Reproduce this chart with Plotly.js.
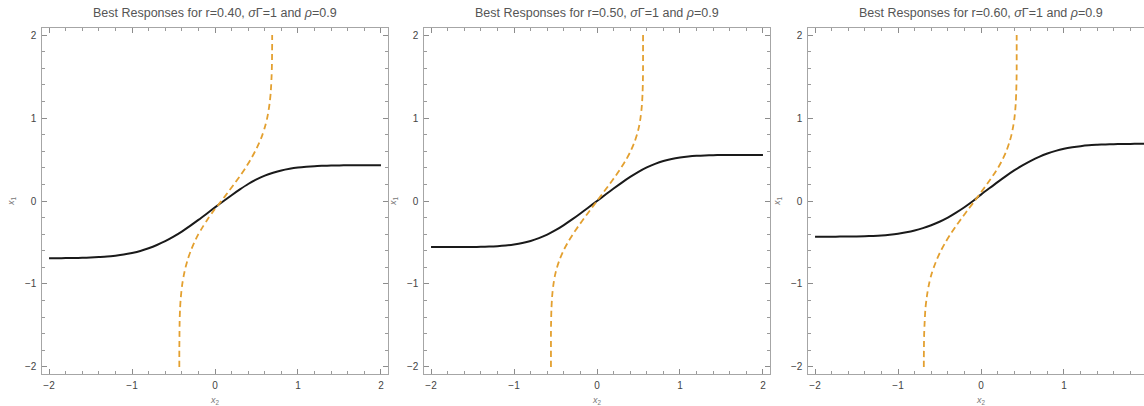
<!DOCTYPE html>
<html>
<head>
<meta charset="utf-8">
<script src="https://cdn.plot.ly/plotly-3.0.1.min.js"></script>
<style>
html,body{margin:0;padding:0;overflow:hidden;background:#fff;}
#chart{width:1162px;height:406px;}
</style>
</head>
<body>
<div id="chart"></div>
<script>
// Grid of the independent variable (x2 for solid curves, x1 for dashed curves)
const grid = [-2.0, -1.9, -1.8, -1.7, -1.6, -1.5, -1.4, -1.3, -1.2, -1.1,
              -1.0, -0.9, -0.8, -0.7, -0.6, -0.5, -0.4, -0.3, -0.2, -0.1,
               0.0,  0.1,  0.2,  0.3,  0.4,  0.5,  0.6,  0.7,  0.8,  0.9,
               1.0,  1.1,  1.2,  1.3,  1.4,  1.5,  1.6,  1.7,  1.8,  1.9, 2.0];

// Panel titles
const panelTitles = [
  'Best Responses for r=0.40, <i>σ</i>Γ=1 and <i>ρ</i>=0.9',
  'Best Responses for r=0.50, <i>σ</i>Γ=1 and <i>ρ</i>=0.9',
  'Best Responses for r=0.60, <i>σ</i>Γ=1 and <i>ρ</i>=0.9'
];

// Best response of player 1: x1 as a function of x2 (solid black)
const br1_r040 = [-0.689, -0.689, -0.688, -0.687, -0.685, -0.681, -0.676, -0.670, -0.659, -0.645,
                  -0.626, -0.602, -0.569, -0.530, -0.484, -0.429, -0.368, -0.300, -0.228, -0.153,
                  -0.077, -0.003,  0.070,  0.140,  0.205,  0.260,  0.305,  0.340,  0.368,  0.388,
                   0.403,  0.413,  0.420,  0.424,  0.427,  0.429,  0.430,  0.430,  0.430,  0.430, 0.430];
const br1_r050 = [-0.555, -0.555, -0.555, -0.555, -0.555, -0.554, -0.552, -0.549, -0.544, -0.536,
                  -0.524, -0.507, -0.482, -0.448, -0.405, -0.352, -0.290, -0.222, -0.150, -0.075,
                   0.000,  0.075,  0.150,  0.222,  0.290,  0.352,  0.405,  0.448,  0.482,  0.507,
                   0.524,  0.536,  0.544,  0.549,  0.552,  0.554,  0.555,  0.555,  0.555,  0.555, 0.555];
const br1_r060 = [-0.430, -0.430, -0.430, -0.429, -0.428, -0.427, -0.425, -0.421, -0.415, -0.406,
                  -0.394, -0.377, -0.355, -0.327, -0.292, -0.250, -0.200, -0.140, -0.075, -0.003,
                   0.077,  0.153,  0.228,  0.300,  0.368,  0.429,  0.484,  0.532,  0.572,  0.604,
                   0.629,  0.647,  0.661,  0.671,  0.677,  0.682,  0.685,  0.687,  0.688,  0.689, 0.689];

// Best response of player 2: x2 as a function of x1 (dashed orange)
const br2_r040 = [-0.430, -0.430, -0.430, -0.429, -0.428, -0.427, -0.425, -0.421, -0.415, -0.406,
                  -0.394, -0.377, -0.355, -0.327, -0.292, -0.250, -0.200, -0.140, -0.075, -0.003,
                   0.077,  0.153,  0.228,  0.300,  0.368,  0.429,  0.484,  0.532,  0.572,  0.604,
                   0.629,  0.647,  0.661,  0.671,  0.677,  0.682,  0.685,  0.687,  0.688,  0.689, 0.689];
const br2_r050 = [-0.555, -0.555, -0.555, -0.555, -0.555, -0.554, -0.552, -0.549, -0.544, -0.536,
                  -0.524, -0.507, -0.482, -0.448, -0.405, -0.352, -0.290, -0.222, -0.150, -0.075,
                   0.000,  0.075,  0.150,  0.222,  0.290,  0.352,  0.405,  0.448,  0.482,  0.507,
                   0.524,  0.536,  0.544,  0.549,  0.552,  0.554,  0.555,  0.555,  0.555,  0.555, 0.555];
const br2_r060 = [-0.689, -0.689, -0.688, -0.687, -0.685, -0.681, -0.676, -0.670, -0.659, -0.645,
                  -0.626, -0.602, -0.569, -0.530, -0.484, -0.429, -0.368, -0.300, -0.228, -0.153,
                  -0.077, -0.003,  0.070,  0.140,  0.205,  0.260,  0.305,  0.340,  0.368,  0.388,
                   0.403,  0.413,  0.420,  0.424,  0.427,  0.429,  0.430,  0.430,  0.430,  0.430, 0.430];

const axisRange = [-2.08, 2.08];
const majorTicks = [-2, -1, 0, 1, 2];

const W = 1162, H = 406;
const xDomPx = [[42.4, 387.6], [424.4, 769.6], [808.4, 1153.6]];
const yDomPx = [28.4, 373.6];

const solid = [br1_r040, br1_r050, br1_r060];
const dashed = [br2_r040, br2_r050, br2_r060];

const BLACK = '#1a1a1a';
const ORANGE = '#E3A030';
const FONT = 'Liberation Sans, Arial, Helvetica, sans-serif';

const traces = [];
const layout = {
  width: W, height: H,
  margin: {l: 0, r: 0, t: 0, b: 0},
  paper_bgcolor: '#fff', plot_bgcolor: '#fff',
  showlegend: false,
  font: {family: FONT},
  annotations: []
};

function axis(dom, isX) {
  return {
    domain: dom,
    range: axisRange,
    showgrid: false,
    zeroline: false,
    showline: true,
    mirror: 'allticks',
    linecolor: '#a6a6a6',
    linewidth: 1,
    ticks: 'inside',
    ticklen: 5,
    tickwidth: 1,
    tickcolor: '#8c8c8c',
    tickmode: 'array',
    tickvals: majorTicks,
    ticktext: majorTicks.map(v => v < 0 ? '\u2212' + Math.abs(v) : String(v)),
    minor: {ticks: 'inside', ticklen: 3, tickwidth: 1, tickcolor: '#9a9a9a', dtick: 0.2, tick0: 0, showgrid: false},
    tickfont: {size: 10, color: '#444', family: FONT},
    ticklabelstandoff: isX ? 2 : 3,
    fixedrange: true,
    title: {
      text: isX ? '<i>x</i><sub>2</sub>' : '<i>x</i><sub>1</sub>',
      font: {size: 9, color: '#777', family: FONT},
      standoff: isX ? 21 : 8
    }
  };
}

for (let i = 0; i < 3; i++) {
  const s = i === 0 ? '' : String(i + 1);
  const xa = 'x' + s, ya = 'y' + s;
  const xd = [xDomPx[i][0] / W, xDomPx[i][1] / W];
  const yd = [1 - yDomPx[1] / H, 1 - yDomPx[0] / H];
  layout['xaxis' + s] = Object.assign(axis(xd, true), {anchor: ya});
  layout['yaxis' + s] = Object.assign(axis(yd, false), {anchor: xa});

  traces.push({
    x: grid, y: solid[i], xaxis: xa, yaxis: ya,
    type: 'scatter', mode: 'lines',
    line: {color: BLACK, width: 2, shape: 'spline', smoothing: 0.8},
    hoverinfo: 'skip'
  });
  traces.push({
    x: dashed[i], y: grid, xaxis: xa, yaxis: ya,
    type: 'scatter', mode: 'lines',
    line: {color: ORANGE, width: 1.8, dash: '6px,4px', shape: 'spline', smoothing: 0.8},
    hoverinfo: 'skip'
  });

  layout.annotations.push({
    text: panelTitles[i],
    xref: 'paper', yref: 'paper',
    x: (xd[0] + xd[1]) / 2, y: 1 - 13 / H,
    xanchor: 'center', yanchor: 'middle',
    showarrow: false,
    font: {size: 12.5, color: '#555', family: FONT}
  });
}

Plotly.newPlot('chart', traces, layout, {displayModeBar: false, staticPlot: true});
</script>
</body>
</html>
